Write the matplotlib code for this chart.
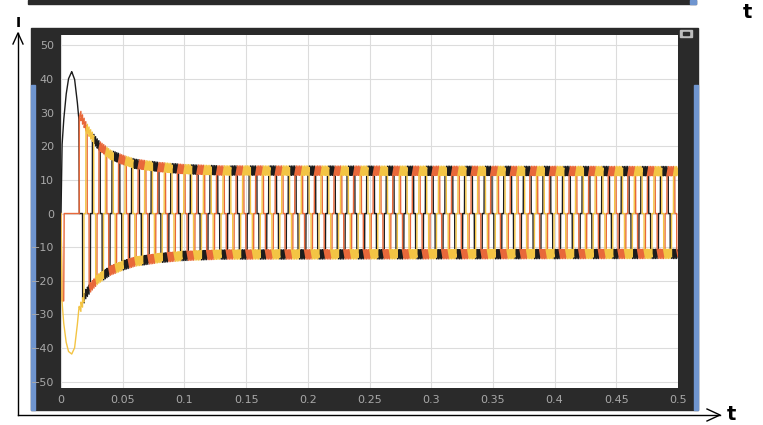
import numpy as np
import matplotlib.pyplot as plt
from matplotlib.patches import Rectangle
from matplotlib.lines import Line2D

# start-up interval: black and yellow phases conduct before commutation begins
hump_t = [0.0, 0.0008, 0.002, 0.004, 0.006, 0.0087, 0.011, 0.013, 0.0145, 0.0148]
black_hump = [0, 20, 27, 35, 40, 42.2, 40, 34, 28, 0]
yellow_hump = [0, -26, -32, -38, -41, -41.8, -40, -34, -28, -28]
orange_dip_t = [0.0, 0.0008, 0.0022, 0.0025]
orange_dip = [0, -26, -26, 0]

# current envelope once six-step commutation runs
t_comm = 0.0148
env_t = [0.0148, 0.02, 0.025, 0.03, 0.04, 0.05, 0.06, 0.08, 0.10, 0.13, 0.5]
env_pos = [30, 26, 23, 20.5, 17.5, 16, 14.8, 13.8, 13.2, 12.8, 12.6]
env_neg = [-29, -24, -21.5, -19.5, -17, -15.5, -14.3, -13.2, -12.6, -12.2, -12.0]
f_elec = 63.0
ripple = 2.8
lag = 0.0011  # outgoing phase current hangs on after each commutation

# which phase is positive / negative in each 60 deg sector (0 black, 1 orange, 2 yellow)
pos_seq = [1, 1, 2, 2, 0, 0]
neg_seq = [2, 0, 0, 1, 1, 2]

colors = ['#1c1c1c', '#e8683a', '#f3c444']
yticks = list(range(-50, 51, 10))
xticks = [0, 0.05, 0.1, 0.15, 0.2, 0.25, 0.3, 0.35, 0.4, 0.45, 0.5]
xticklabels = ['0', '0.05', '0.1', '0.15', '0.2', '0.25', '0.3', '0.35', '0.4', '0.45', '0.5']

t = np.arange(0, 0.5, 2e-5)
cur = np.zeros((3, len(t)))

start = t < t_comm
cur[0, start] = np.interp(t[start], hump_t, black_hump)
cur[2, start] = np.interp(t[start], hump_t, yellow_hump)
cur[1, start] = np.interp(t[start], orange_dip_t, orange_dip, right=0)

run = ~start
sector = 1.0 / (6 * f_elec)
pos = (t[run] - t_comm) / sector
kk = np.floor(pos).astype(int)
k = kk % 6
frac = pos - kk
# saw-shaped chopping ripple on the conducting phases
tooth = (frac * 2) % 1 - 0.5
ip = np.interp(t[run], env_t, env_pos) + ripple * tooth
ineg = np.interp(t[run], env_t, env_neg) - ripple * tooth
idx = np.where(run)[0]
pk = np.array(pos_seq)[k]
nk = np.array(neg_seq)[k]
pk_prev = np.array(pos_seq)[(k - 1) % 6]
nk_prev = np.array(neg_seq)[(k - 1) % 6]
hang = (frac * sector < lag) & (kk > 0)
for ph in range(3):
    vals = np.zeros(len(idx))
    m = hang & (pk_prev == ph)
    vals[m] = ip[m]
    m = hang & (nk_prev == ph)
    vals[m] = ineg[m]
    vals[pk == ph] = ip[pk == ph]
    vals[nk == ph] = ineg[nk == ph]
    cur[ph, idx] = vals

W, H = 763, 425
fig = plt.figure(figsize=(W / 100, H / 100), dpi=100)
fig.patch.set_facecolor('white')

def box(x0, y0, x1, y1, color):
    # rectangle given in pixels from the top-left corner
    fig.patches.append(Rectangle((x0 / W, 1 - y1 / H), (x1 - x0) / W, (y1 - y0) / H,
                                 transform=fig.transFigure, color=color, zorder=-10))

# scope windows
box(28, 0, 696, 4, '#2a2a2a')
box(690, 0, 696, 4, '#6f95cf')
box(31, 28, 698, 410, '#2a2a2a')
box(31, 85, 35, 410, '#6f95cf')
box(694, 85, 698, 410, '#6f95cf')
box(680, 30, 692, 37, '#bdbdbd')
box(683, 32, 689, 35, '#2a2a2a')

ax = fig.add_axes([61 / W, 1 - 388 / H, 617 / W, 353 / H])
ax.set_zorder(5)
ax.set_facecolor('white')
for ph in [0, 1, 2]:
    ax.plot(t, cur[ph], color=colors[ph], lw=1.0)
ax.set_xlim(0, 0.5)
ax.set_ylim(-51.9, 53.1)
ax.set_xticks(xticks)
ax.set_xticklabels(xticklabels)
ax.set_yticks(yticks)
ax.grid(True, color='#dcdcdc', lw=0.8)
ax.tick_params(colors='#a8a8a8', labelsize=8, length=0, pad=5)
for s in ax.spines.values():
    s.set_visible(False)

# hand-drawn axes with arrows
fig.add_artist(Line2D([18 / W, 18 / W], [1 - 415 / H, 1 - 33 / H], color='black', lw=1))
fig.add_artist(Line2D([13 / W, 18 / W, 23 / W], [1 - 44 / H, 1 - 33 / H, 1 - 44 / H], color='black', lw=1))
fig.add_artist(Line2D([18 / W, 720 / W], [1 - 415 / H, 1 - 415 / H], color='black', lw=1))
fig.add_artist(Line2D([707 / W, 720 / W, 707 / W], [1 - 409 / H, 1 - 415 / H, 1 - 421 / H], color='black', lw=1))
fig.text(18 / W, 1 - 23 / H, 'I', fontsize=10, fontweight='bold', ha='center', va='center')
fig.text(731 / W, 1 - 415 / H, 't', fontsize=14, fontweight='bold', ha='center', va='center')
fig.text(747 / W, 1 - 13 / H, 't', fontsize=14, fontweight='bold', ha='center', va='center')

fig.savefig('out.png', dpi=100)
